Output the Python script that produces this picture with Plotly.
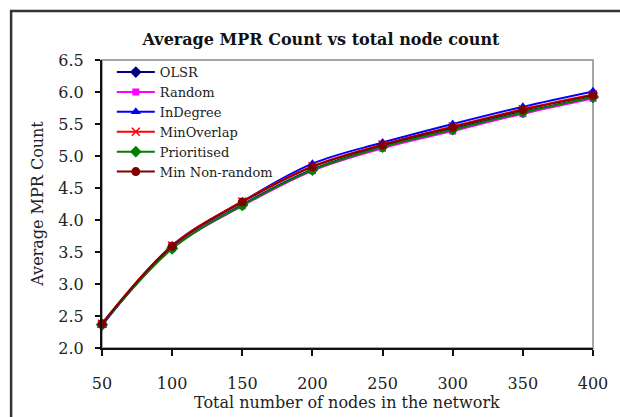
import plotly.graph_objects as go

nodes = [50, 100, 150, 200, 250, 300, 350, 400]

olsr = [2.36, 3.56, 4.24, 4.79, 5.15, 5.42, 5.69, 5.92]
random_sel = [2.37, 3.56, 4.22, 4.77, 5.12, 5.39, 5.66, 5.90]
indegree = [2.35, 3.60, 4.29, 4.88, 5.21, 5.50, 5.77, 6.01]
minoverlap = [2.38, 3.60, 4.29, 4.84, 5.18, 5.46, 5.73, 5.96]
prioritised = [2.37, 3.55, 4.23, 4.78, 5.14, 5.41, 5.68, 5.92]
min_nonrandom = [2.38, 3.59, 4.28, 4.83, 5.17, 5.45, 5.72, 5.95]

x_ticks = [50, 100, 150, 200, 250, 300, 350, 400]
y_ticks = [2.0, 2.5, 3.0, 3.5, 4.0, 4.5, 5.0, 5.5, 6.0, 6.5]

series = [
    ("OLSR", olsr, "#000080", "diamond", 9),
    ("Random", random_sel, "#FF00FF", "square", 7),
    ("InDegree", indegree, "#0000FF", "triangle-up", 9),
    ("MinOverlap", minoverlap, "#FF0000", "x-thin", 8),
    ("Prioritised", prioritised, "#008000", "diamond", 9),
    ("Min Non-random", min_nonrandom, "#800000", "circle", 9),
]

FONT = "DejaVu Serif"

fig = go.Figure()
for name, ys, color, symbol, size in series:
    fig.add_trace(go.Scatter(
        x=nodes, y=ys, name=name, mode="lines+markers",
        line=dict(color=color, width=2, shape="spline", smoothing=1),
        marker=dict(symbol=symbol, size=size, color=color,
                    line=dict(color=color, width=1.5 if symbol == "x-thin" else 0)),
        cliponaxis=False,
    ))

W, H = 620, 417
L, R, T, B = 102, 21, 60, 69

fig.update_layout(
    width=W, height=H,
    margin=dict(l=L, r=R, t=T, b=B),
    paper_bgcolor="white", plot_bgcolor="white",
    font=dict(family=FONT, size=16, color="#222"),
    title=dict(text="<b>Average MPR Count vs total node count</b>",
               x=321 / W, xanchor="center", y=1 - 39 / H, yanchor="middle",
               font=dict(family=FONT, size=16, color="#111")),
    showlegend=True,
    legend=dict(x=0.02, y=1.01, xanchor="left", yanchor="top",
                bgcolor="rgba(0,0,0,0)", borderwidth=0, itemwidth=38,
                font=dict(family=FONT, size=13, color="#222"),
                tracegroupgap=0),
    xaxis=dict(range=[50, 400], tickmode="array", tickvals=x_ticks,
               ticktext=[str(v) for v in x_ticks],
               showgrid=False, zeroline=False,
               showline=True, linecolor="#111", linewidth=2,
               ticks="outside", ticklen=6, tickwidth=1.5, tickcolor="#111",
               ticklabelstandoff=14,
               tickfont=dict(family=FONT, size=16, color="#222")),
    yaxis=dict(range=[2.0, 6.5], tickmode="array", tickvals=y_ticks,
               ticktext=["%.1f" % v for v in y_ticks],
               showgrid=False, zeroline=False,
               showline=True, linecolor="#111", linewidth=2,
               ticks="outside", ticklen=5, tickwidth=1.5, tickcolor="#111",
               ticklabelstandoff=8,
               tickfont=dict(family=FONT, size=16, color="#222")),
    shapes=[
        # plot area border (gray top/right)
        dict(type="rect", xref="paper", yref="paper", x0=0, x1=1, y0=0, y1=1,
             line=dict(color="#a6a6a6", width=2), layer="below"),
        # outer chart frame
        dict(type="rect", xref="paper", yref="paper",
             x0=(10 - L) / (W - L - R), x1=1.3,
             y0=-0.6, y1=(H - B - 11) / (H - T - B),
             line=dict(color="#333", width=2.5), layer="below"),
    ],
    annotations=[
        dict(text="Total number of nodes in the network", xref="paper", yref="paper",
             x=(350 - L) / (W - L - R), y=(H - B - 402) / (H - T - B),
             xanchor="center", yanchor="middle", showarrow=False,
             font=dict(family=FONT, size=16, color="#222")),
        dict(text="Average MPR Count", xref="paper", yref="paper",
             x=(36 - L) / (W - L - R), y=0.5, textangle=-90,
             xanchor="center", yanchor="middle", showarrow=False,
             font=dict(family=FONT, size=16, color="#222")),
    ],
)

fig.write_html("out.html")
